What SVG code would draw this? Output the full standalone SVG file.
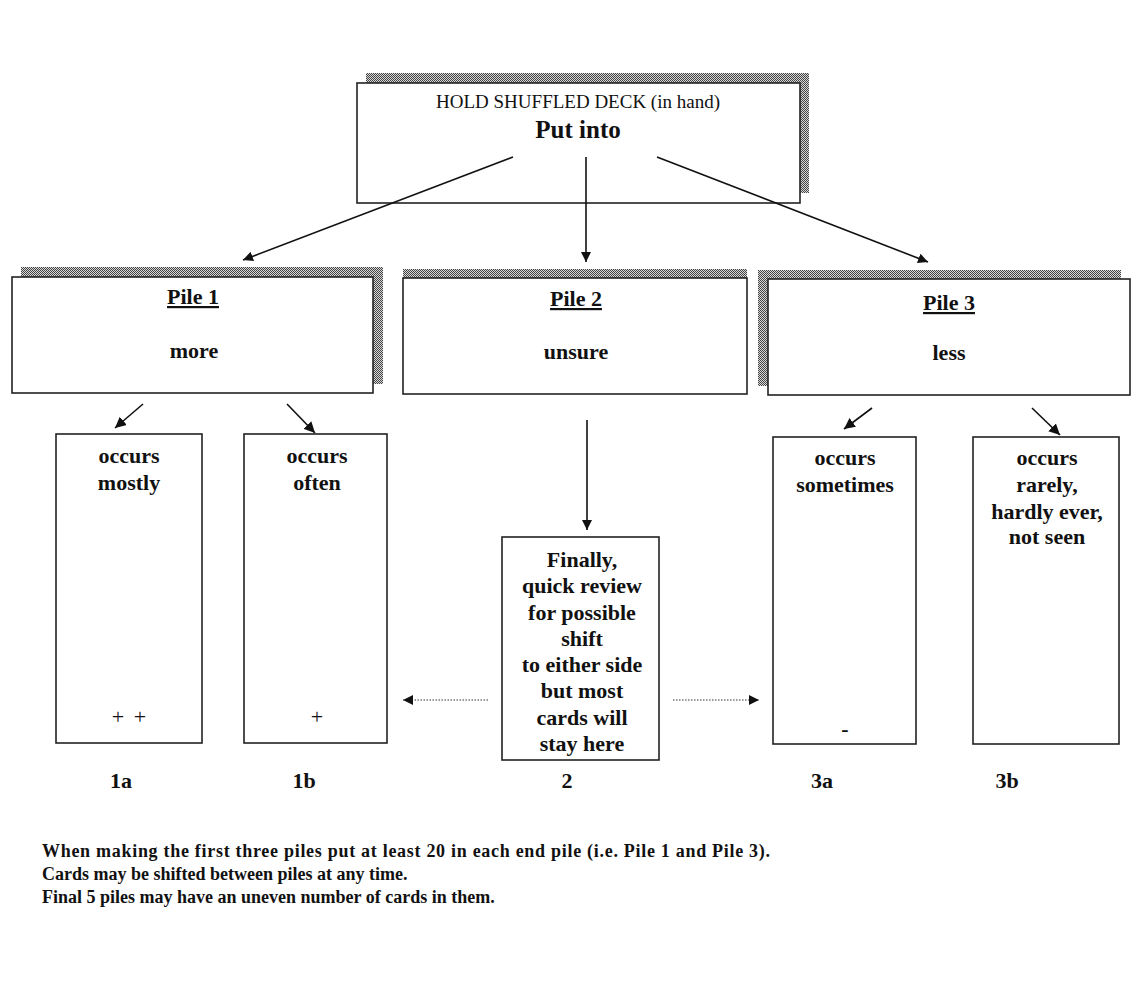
<svg xmlns="http://www.w3.org/2000/svg" width="1142" height="992" viewBox="0 0 1142 992">
<defs>
<pattern id="chk" width="2" height="2" patternUnits="userSpaceOnUse">
<rect width="2" height="2" fill="#d8d8d8"/>
<rect width="1" height="1" fill="#444"/>
<rect x="1" y="1" width="1" height="1" fill="#444"/>
</pattern>
<marker id="ah" viewBox="0 0 10 10" refX="10" refY="5" markerWidth="10" markerHeight="10" markerUnits="userSpaceOnUse" orient="auto">
<path d="M0,0 L10,5 L0,10 z" fill="#111"/>
</marker>
<marker id="ahs" viewBox="0 0 10 10" refX="10" refY="5" markerWidth="11" markerHeight="11" markerUnits="userSpaceOnUse" orient="auto">
<path d="M0,0 L10,5 L0,10 z" fill="#111"/>
</marker>
</defs>
<style>
.box{fill:#fff;stroke:#222;stroke-width:1.6}
.sh{fill:url(#chk)}
.t{font-family:"Liberation Serif","Times New Roman",serif;fill:#111;text-anchor:middle}
.b{font-weight:bold;font-size:22px}
.ttl{text-decoration:underline}
.ln{stroke:#111;stroke-width:1.6;fill:none}
.dot{stroke:#333;stroke-width:1.2;stroke-dasharray:1.5 1.5;fill:none}
.note{font-family:"Liberation Serif","Times New Roman",serif;font-weight:bold;font-size:18px;fill:#111}
</style>
<rect width="1142" height="992" fill="#fff"/>

<g id="top">
<rect class="sh" x="366" y="73" width="443" height="120"/>
<rect class="box" x="357" y="83" width="443" height="120"/>
<text class="t" x="578" y="108" font-size="19">HOLD SHUFFLED DECK (in hand)</text>
<text class="t" x="578" y="138" font-size="25" font-weight="bold">Put into</text>
</g>

<g id="pile1">
<rect class="sh" x="21" y="267" width="362" height="117"/>
<rect class="box" x="12" y="277" width="361" height="116"/>
<text class="t b ttl" x="193" y="304">Pile 1</text>
<text class="t b" x="194" y="358">more</text>
</g>

<g id="pile2">
<rect class="sh" x="403" y="269" width="344" height="10"/>
<rect class="box" x="403" y="278" width="344" height="116"/>
<text class="t b ttl" x="576" y="306">Pile 2</text>
<text class="t b" x="576" y="359">unsure</text>
</g>

<g id="pile3">
<rect class="sh" x="758" y="270" width="363" height="116"/>
<rect class="box" x="768" y="279" width="362" height="116"/>
<text class="t b ttl" x="949" y="310">Pile 3</text>
<text class="t b" x="949" y="360">less</text>
</g>

<g id="c1a">
<rect class="box" x="56" y="434" width="146" height="309"/>
<text class="t b" x="129" y="463">occurs</text>
<text class="t b" x="129" y="490">mostly</text>
<text class="t" x="130" y="724" font-size="22" letter-spacing="2">+ +</text>
</g>

<g id="c1b">
<rect class="box" x="244" y="434" width="143" height="309"/>
<text class="t b" x="317" y="463">occurs</text>
<text class="t b" x="317" y="490">often</text>
<text class="t" x="317" y="724" font-size="22">+</text>
</g>

<g id="c2">
<rect class="box" x="502" y="537" width="157" height="223"/>
<text class="t b" x="582" y="567">Finally,</text>
<text class="t b" x="582" y="593">quick review</text>
<text class="t b" x="582" y="620">for possible</text>
<text class="t b" x="582" y="646">shift</text>
<text class="t b" x="582" y="672">to either side</text>
<text class="t b" x="582" y="698">but most</text>
<text class="t b" x="582" y="725">cards will</text>
<text class="t b" x="582" y="751">stay here</text>
</g>

<g id="c3a">
<rect class="box" x="773" y="437" width="143" height="307"/>
<text class="t b" x="845" y="465">occurs</text>
<text class="t b" x="845" y="492">sometimes</text>
<text class="t b" x="845" y="736" font-size="24">-</text>
</g>

<g id="c3b">
<rect class="box" x="973" y="437" width="146" height="307"/>
<text class="t b" x="1047" y="465">occurs</text>
<text class="t b" x="1047" y="492">rarely,</text>
<text class="t b" x="1047" y="519">hardly ever,</text>
<text class="t b" x="1047" y="544">not seen</text>
</g>

<g id="labels">
<text class="t b" x="121" y="788">1a</text>
<text class="t b" x="304" y="788">1b</text>
<text class="t b" x="567" y="788">2</text>
<text class="t b" x="822" y="788">3a</text>
<text class="t b" x="1007" y="788">3b</text>
</g>

<g id="connectors">
<line class="ln" x1="513" y1="157" x2="243" y2="260" marker-end="url(#ah)"/>
<line class="ln" x1="586" y1="157" x2="586" y2="262" marker-end="url(#ah)"/>
<line class="ln" x1="657" y1="157" x2="928" y2="262" marker-end="url(#ah)"/>
<line class="ln" x1="143" y1="404" x2="115" y2="428" marker-end="url(#ahs)"/>
<line class="ln" x1="287" y1="404" x2="315" y2="433" marker-end="url(#ahs)"/>
<line class="ln" x1="872" y1="408" x2="844" y2="429" marker-end="url(#ahs)"/>
<line class="ln" x1="1032" y1="408" x2="1060" y2="435" marker-end="url(#ahs)"/>
<line class="ln" x1="587" y1="420" x2="587" y2="530" marker-end="url(#ah)"/>
<line class="dot" x1="488" y1="700" x2="403" y2="700" marker-end="url(#ah)"/>
<line class="dot" x1="673" y1="700" x2="759" y2="700" marker-end="url(#ah)"/>
</g>

<g id="notes">
<text class="note" x="42" y="857" textLength="728" lengthAdjust="spacing">When making the first three piles put at least 20 in each end pile (i.e. Pile 1 and Pile 3).</text>
<text class="note" x="42" y="880">Cards may be shifted between piles at any time.</text>
<text class="note" x="42" y="903">Final 5 piles may have an uneven number of cards in them.</text>
</g>
</svg>
